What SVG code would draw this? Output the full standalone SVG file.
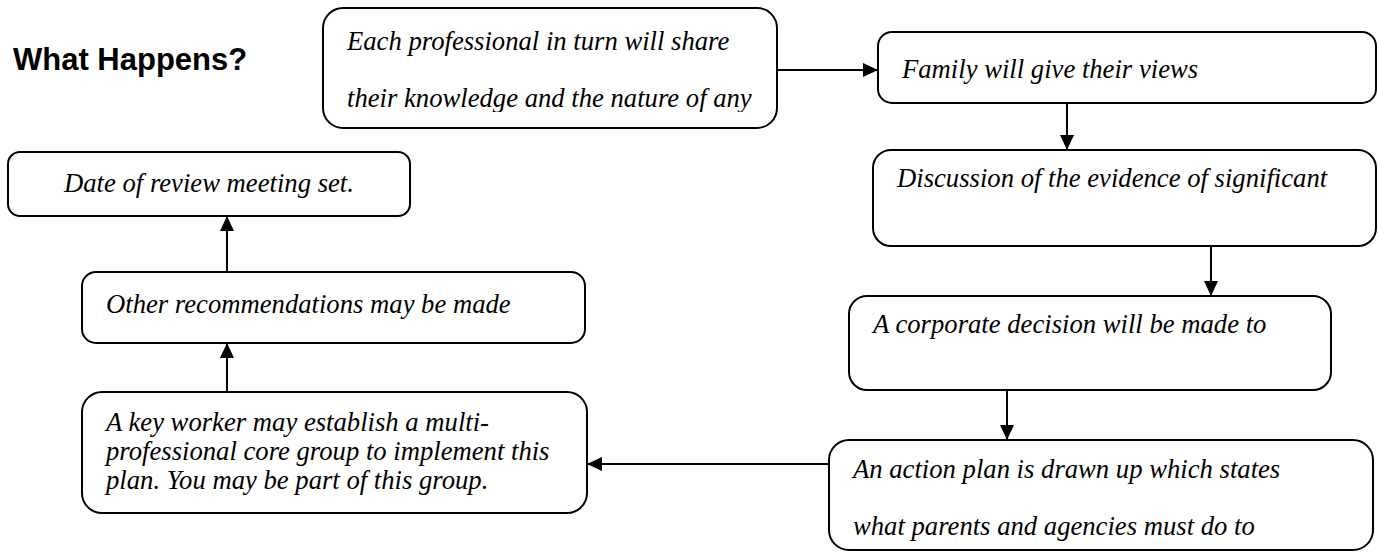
<svg xmlns="http://www.w3.org/2000/svg" width="1378" height="553" viewBox="0 0 1378 553">
<style>
.box{fill:#fff;stroke:#000;stroke-width:2}
.t{font-family:"Liberation Serif","Times New Roman",serif;font-style:italic;font-size:26.67px;fill:#000}
.title{font-family:"Liberation Sans",Arial,sans-serif;font-weight:bold;font-size:31px;fill:#000}
.c{stroke:#000;stroke-width:2;fill:none;marker-end:url(#ah)}
</style>
<defs>
<marker id="ah" markerWidth="15" markerHeight="14" refX="14" refY="7" orient="auto" markerUnits="userSpaceOnUse"><path d="M0,0 L15,7 L0,14 z" fill="#000"/></marker>
<clipPath id="c1"><rect x="323" y="8" width="454" height="104"/></clipPath>
<clipPath id="c5"><rect x="829" y="440" width="544" height="105"/></clipPath>
<clipPath id="c6"><rect x="82" y="392" width="505" height="104"/></clipPath>
</defs>
<rect width="1378" height="553" fill="#fff"/>
<text class="title" x="13" y="70">What Happens?</text>
<g id="n1"><rect class="box" x="323" y="8" width="454" height="120" rx="20"/>
<g clip-path="url(#c1)"><text class="t" x="347" y="50">Each professional in turn will share</text><text class="t" x="347" y="107">their knowledge and the nature of any</text></g></g>
<g id="n2"><rect class="box" x="878" y="32" width="498" height="71" rx="14"/><text class="t" x="902" y="78">Family will give their views</text></g>
<g id="n3"><rect class="box" x="873" y="150" width="503" height="96" rx="18"/><text class="t" x="897" y="187">Discussion of the evidence of significant</text></g>
<g id="n4"><rect class="box" x="849" y="296" width="482" height="94" rx="18"/><text class="t" x="873" y="333">A corporate decision will be made to</text></g>
<g id="n5"><rect class="box" x="829" y="440" width="544" height="110" rx="20"/>
<g clip-path="url(#c5)"><text class="t" x="853" y="478">An action plan is drawn up which states</text><text class="t" x="853" y="535">what parents and agencies must do to</text></g></g>
<g id="n6"><rect class="box" x="82" y="392" width="505" height="121" rx="20"/>
<g clip-path="url(#c6)"><text class="t" x="106" y="431">A key worker may establish a multi-</text><text class="t" x="106" y="460">professional core group to implement this</text><text class="t" x="106" y="489">plan. You may be part of this group.</text></g></g>
<g id="n7"><rect class="box" x="82" y="272" width="503" height="71" rx="14"/><text class="t" x="106" y="313">Other recommendations may be made</text></g>
<g id="n8"><rect class="box" x="8" y="152" width="402" height="64" rx="12"/><text class="t" x="64" y="192">Date of review meeting set.</text></g>
<g id="connectors">
<line class="c" x1="777" y1="70" x2="877" y2="70"/>
<line class="c" x1="1067" y1="103" x2="1067" y2="149"/>
<line class="c" x1="1211" y1="246" x2="1211" y2="295"/>
<line class="c" x1="1007" y1="390" x2="1007" y2="439"/>
<line class="c" x1="829" y1="464" x2="588" y2="464"/>
<line class="c" x1="227" y1="392" x2="227" y2="344"/>
<line class="c" x1="227" y1="272" x2="227" y2="217"/>
</g>
</svg>
